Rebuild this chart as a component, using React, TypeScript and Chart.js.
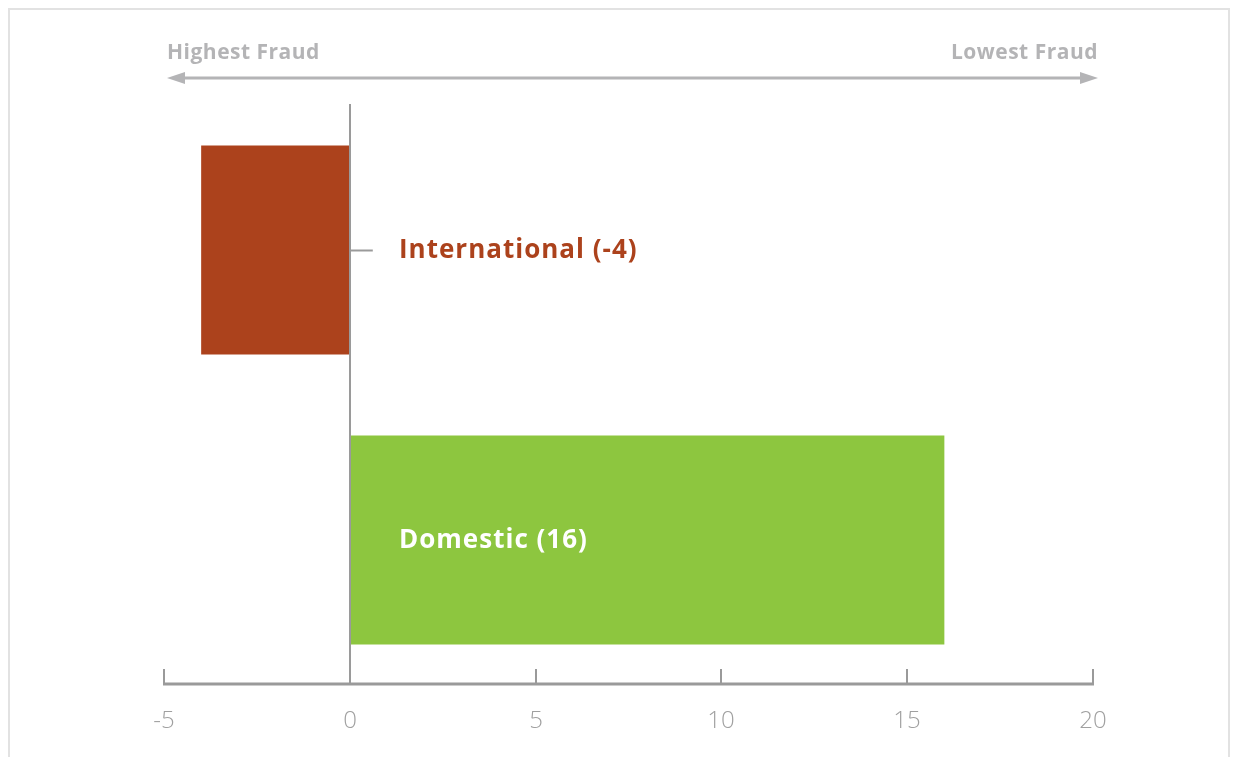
import React, { useEffect, useRef } from "react";
import { Chart, registerables } from "chart.js";

Chart.register(...registerables);

const categories = ["International", "Domestic"];
const values = [-4, 16];
const barColors = ["#AC421C", "#8DC63F"];
const labelColors = ["#AC421C", "#FFFFFF"];
const xMin = -5;
const xMax = 20;
const xStep = 5;
const leftTitle = "Highest Fraud";
const rightTitle = "Lowest Fraud";

const AXIS = "#9a9a9a";
const TITLE = "#b4b4b6";

const decor = {
  id: "decor",
  beforeDatasetsDraw(chart: any) {
    const { ctx, scales } = chart;
    const x = scales.x;
    const y = scales.y;
    const x0 = x.getPixelForValue(0);
    ctx.save();
    ctx.strokeStyle = AXIS;
    ctx.lineWidth = 2;
    categories.forEach((_, i) => {
      const py = Math.round(y.getPixelForValue(i)) + 0.5;
      ctx.beginPath();
      ctx.moveTo(x0, py);
      ctx.lineTo(x0 + 23, py);
      ctx.stroke();
    });
    ctx.restore();
  },
  afterDatasetsDraw(chart: any) {
    const { ctx, scales, chartArea } = chart;
    const x = scales.x;
    const y = scales.y;
    const x0 = Math.round(x.getPixelForValue(0));
    const axisY = chartArea.bottom - 1;
    ctx.save();
    // vertical zero line
    ctx.strokeStyle = AXIS;
    ctx.lineWidth = 2;
    ctx.beginPath();
    ctx.moveTo(x0, chartArea.top - 1);
    ctx.lineTo(x0, axisY);
    ctx.stroke();
    // x axis line
    ctx.lineWidth = 3;
    ctx.beginPath();
    ctx.moveTo(x.getPixelForValue(xMin) - 1, axisY);
    ctx.lineTo(x.getPixelForValue(xMax) + 1, axisY);
    ctx.stroke();
    // upward ticks + labels
    ctx.lineWidth = 2;
    ctx.fillStyle = "#a0a0a0";
    ctx.font = "300 24px 'Open Sans'";
    ctx.textAlign = "center";
    ctx.textBaseline = "middle";
    x.ticks.forEach((t: any) => {
      const px = Math.round(x.getPixelForValue(t.value));
      ctx.beginPath();
      ctx.moveTo(px, axisY);
      ctx.lineTo(px, axisY - 15);
      ctx.stroke();
      ctx.fillText(String(t.value), px, axisY + 37);
    });
    // bar labels
    ctx.font = "bold 26px 'Open Sans'";
    (ctx as any).letterSpacing = "1px";
    ctx.textAlign = "left";
    categories.forEach((c, i) => {
      const py = y.getPixelForValue(i);
      ctx.fillStyle = labelColors[i];
      const v = values[i];
      ctx.fillText(`${c} (${v})`, x0 + 49, py + 1);
    });
    // top titles and arrow
    const left = x.getPixelForValue(xMin) + 3;
    const right = x.getPixelForValue(xMax) + 5;
    ctx.fillStyle = TITLE;
    ctx.font = "bold 21px 'Open Sans'";
    (ctx as any).letterSpacing = "0.5px";
    ctx.textBaseline = "alphabetic";
    ctx.textAlign = "left";
    ctx.fillText(leftTitle, left, chartArea.top - 46);
    ctx.textAlign = "right";
    ctx.fillText(rightTitle, right, chartArea.top - 46);
    (ctx as any).letterSpacing = "0px";
    const ay = chartArea.top - 27;
    ctx.strokeStyle = TITLE;
    ctx.lineWidth = 3;
    ctx.beginPath();
    ctx.moveTo(left + 8, ay);
    ctx.lineTo(right - 8, ay);
    ctx.stroke();
    ctx.beginPath();
    ctx.moveTo(left, ay);
    ctx.lineTo(left + 18, ay - 6);
    ctx.lineTo(left + 18, ay + 6);
    ctx.closePath();
    ctx.fill();
    ctx.beginPath();
    ctx.moveTo(right, ay);
    ctx.lineTo(right - 18, ay - 6);
    ctx.lineTo(right - 18, ay + 6);
    ctx.closePath();
    ctx.fill();
    ctx.restore();
  },
};

export default function App() {
  const ref = useRef<HTMLCanvasElement>(null);
  useEffect(() => {
    if (!ref.current) return;
    const chart = new Chart(ref.current, {
      type: "bar",
      data: {
        labels: categories,
        datasets: [
          {
            data: values,
            backgroundColor: barColors,
            borderWidth: 0,
            barPercentage: 0.72,
            categoryPercentage: 1,
          },
        ],
      },
      options: {
        indexAxis: "y",
        responsive: false,
        animation: false,
        layout: { padding: { left: 154, right: 135, top: 95, bottom: 72 } },
        plugins: { legend: { display: false }, tooltip: { enabled: false } },
        scales: {
          x: {
            display: false,
            min: xMin,
            max: xMax,
            ticks: { stepSize: xStep },
          },
          y: { display: false },
        },
      },
      plugins: [decor],
    });
    return () => chart.destroy();
  }, []);
  return (
    <div
      style={{
        position: "absolute",
        left: 8,
        top: 8,
        width: 1218,
        height: 747,
        borderTop: "2px solid #e2e2e2",
        borderLeft: "2px solid #e2e2e2",
        borderRight: "2px solid #e2e2e2",
        background: "#fff",
      }}
    >
      <canvas ref={ref} width={1218} height={747} style={{ display: "block" }} />
    </div>
  );
}
